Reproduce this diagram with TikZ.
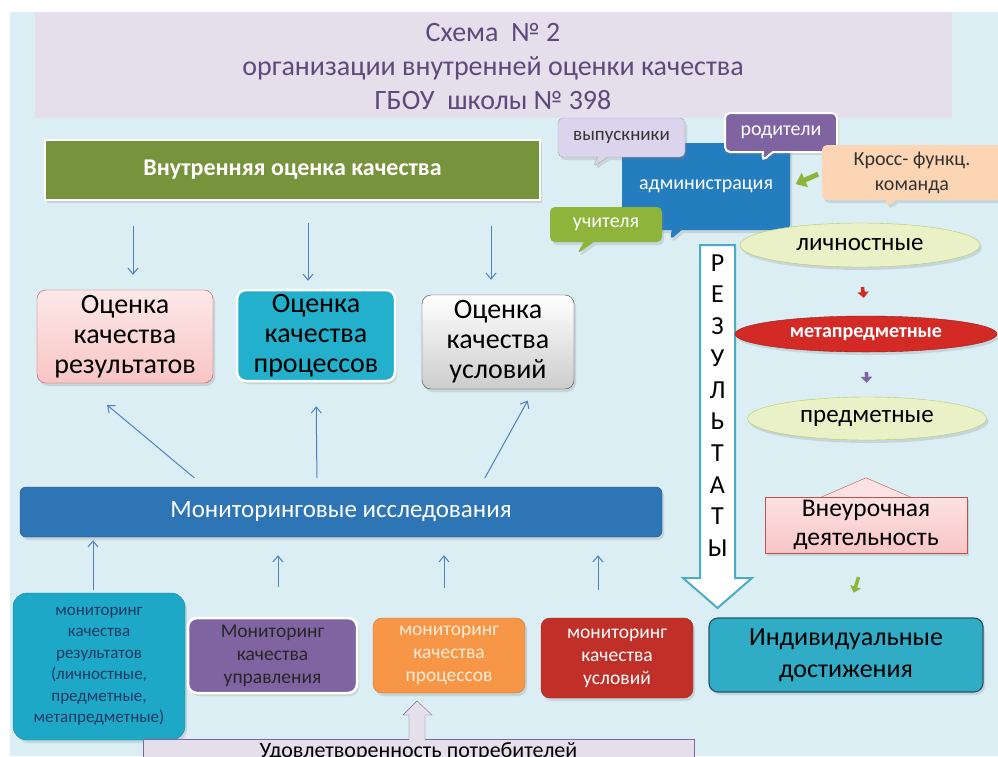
\documentclass[tikz,border=0pt]{standalone}
\usepackage{fontspec}
\setmainfont{Carlito}
\usetikzlibrary{shapes.geometric,shapes.callouts,arrows.meta,shadows,positioning}

\definecolor{bgblue}{RGB}{218,238,244}
\definecolor{titlelav}{RGB}{229,223,236}
\definecolor{titletext}{RGB}{95,73,122}
\definecolor{olive}{RGB}{119,147,60}
\definecolor{pinkfill}{RGB}{249,197,197}
\definecolor{pinkline}{RGB}{192,80,77}
\definecolor{tealbox}{RGB}{34,176,204}
\definecolor{monblue}{RGB}{46,117,182}
\definecolor{monline}{RGB}{31,78,121}
\definecolor{cyanbox}{RGB}{28,168,198}
\definecolor{navytext}{RGB}{31,56,100}
\definecolor{violet}{RGB}{128,100,162}
\definecolor{orangebox}{RGB}{247,150,70}
\definecolor{redbox}{RGB}{192,48,40}
\definecolor{indivbox}{RGB}{49,172,198}
\definecolor{indivline}{RGB}{33,88,104}
\definecolor{admblue}{RGB}{35,125,190}
\definecolor{lavbox}{RGB}{220,211,236}
\definecolor{peach}{RGB}{252,213,180}
\definecolor{greenbox}{RGB}{142,180,60}
\definecolor{lightgreen}{RGB}{235,241,198}
\definecolor{ellline}{RGB}{181,204,106}
\definecolor{metared}{RGB}{212,42,38}
\definecolor{arrline}{RGB}{75,172,198}
\definecolor{thinblue}{RGB}{79,129,189}

\begin{document}
\begin{tikzpicture}[x=1pt,y=-1pt,
    soft/.style={drop shadow={opacity=0.22,shadow xshift=2pt,shadow yshift=-3pt}},
    box/.style={draw,rounded corners=9pt,align=center,inner sep=0pt,soft},
    bubble/.style={rectangle callout,rounded corners=5pt,align=center,inner sep=0pt,soft,
      callout pointer width=10pt,font=\fontsize{20}{25}\selectfont},
    oval/.style={ellipse,draw=ellline,fill=lightgreen,inner sep=0pt,font=\fontsize{25}{28}\selectfont},
    blarr/.style={draw=thinblue,line width=1pt,-{Straight Barb[length=6pt,width=10pt]}},
    dotarr/.style={line width=3.5pt,-{Triangle[length=6pt,width=11pt]}},
    big/.style={font=\fontsize{28}{30}\selectfont},
    small/.style={font=\fontsize{19.5}{23}\selectfont}]
\useasboundingbox (0,0) rectangle (998,756);
\clip (0,0) rectangle (998,756);
\fill[white] (0,0) rectangle (998,756);
\fill[bgblue] (10,12) rectangle (998,756);
\fill[titlelav] (35,12) rectangle (952,118);

\node [align=center,text=titletext,font=\fontsize{28}{34}\selectfont] (title) at (493,67)
    {Схема~~№~2\\организации внутренней оценки качества\\ГБОУ~~школы №~398};

\node [draw=white,line width=2pt,fill=olive,minimum width=495,minimum height=60,soft,
    text=white,font=\bfseries\fontsize{24}{28}\selectfont] (voq) at (292.5,170)
    {Внутренняя оценка качества};

\node [box,big,draw=pinkline,top color=pinkfill!40,bottom color=pinkfill,
    minimum width=176,minimum height=93] (res) at (125,336.5) {Оценка\\качества\\результатов};
\node [box,big,draw=white,line width=2.5pt,fill=tealbox,
    minimum width=158,minimum height=91] (proc) at (316,335.5) {Оценка\\качества\\процессов};
\node [box,big,draw=black!75,top color=white,bottom color=black!20,
    minimum width=152,minimum height=94] (cond) at (498,342) {Оценка\\качества\\условий};

\node [box,rounded corners=6pt,draw=monline,fill=monblue,text=white,
    font=\fontsize{25}{28}\selectfont,minimum width=642,minimum height=50] (mon) at (341,512)
    {Мониторинговые исследования};

\node [box,rounded corners=14pt,draw=cyanbox!80!black,fill=cyanbox,text=navytext,
    font=\fontsize{17}{21.5}\selectfont,minimum width=172,minimum height=147] (mres) at (99,666.5)
    {мониторинг\\качества\\результатов\\(личностные,\\предметные,\\метапредметные)};
\node [box,small,draw=white,line width=2.5pt,fill=violet,text=black!85,
    minimum width=169,minimum height=75] (mupr) at (272.5,655.5) {Мониторинг\\качества\\управления};
\node [box,small,draw=orangebox!80!black,fill=orangebox,text=orange!15,
    minimum width=152,minimum height=75] (mproc) at (449,655.5) {мониторинг\\качества\\процессов};
\node [box,small,draw=redbox!80!black,fill=redbox,text=white,
    minimum width=152,minimum height=80] (mcond) at (617,658) {мониторинг\\качества\\условий};
\node [box,draw=indivline,line width=1.2pt,fill=indivbox,
    font=\fontsize{26}{32}\selectfont,minimum width=274,minimum height=74] (indiv) at (846,655)
    {Индивидуальные\\достижения};

\node [draw=violet,fill=titlelav,font=\fontsize{22}{24}\selectfont,
    minimum width=551,minimum height=26,inner sep=0pt] (udov) at (418.5,752) {Удовлетворенность потребителей};
\filldraw [draw=violet,fill=titlelav] (409,740) -- (409,715) -- (403,715) -- (417,701)
    -- (432,715) -- (425,715) -- (425,740);

% administration and its partners
\node [bubble,fill=admblue,text=white,
    minimum width=168,minimum height=87,callout absolute pointer={(670,240)}] (adm) at (706,186.5)
    {администрация};
\node [bubble,draw=black!35,fill=lavbox,text=black!80,font=\fontsize{19}{25}\selectfont,
    minimum width=127,minimum height=39,callout absolute pointer={(593,167)}] (vyp) at (621.5,137.5)
    {выпускники};
\node [bubble,draw=white,line width=2pt,fill=violet,text=white,
    minimum width=112,minimum height=39,callout absolute pointer={(762,161)}] (rod) at (781,132.5)
    {родители};
\node [bubble,fill=peach,text=black!80,
    minimum width=180,minimum height=55,callout absolute pointer={(886,207)}] (kross) at (912,172.5)
    {Кросс- функц.\\команда};
\node [bubble,fill=greenbox,text=white,
    minimum width=112,minimum height=35,callout absolute pointer={(577,254)}] (uch) at (606,224.5)
    {учителя};
\draw [greenbox,line width=5pt,-{Triangle[length=10pt,width=15pt]},shorten <=4pt,shorten >=6pt]
    (kross.west) -- (adm.east);

% results
\filldraw [draw=arrline,line width=2pt,fill=white] (700,245) -- (735,245) -- (735,578)
    -- (752,578) -- (717.5,608) -- (683,578) -- (700,578) -- cycle;
\node [align=center,font=\fontsize{26}{31.7}\selectfont] (rezt) at (717.5,405.5)
    {Р\\Е\\З\\У\\Л\\Ь\\Т\\А\\Т\\Ы};

\node [oval,soft,minimum width=240,minimum height=44] (lich) at (860,245) {личностные};
\node [oval,soft,draw=metared!70!black,fill=metared,text=white,minimum width=262,minimum height=36,
    font=\bfseries\fontsize{20}{24}\selectfont] (meta) at (866,334) {метапредметные};
\node [oval,soft,minimum width=239,minimum height=43] (pred) at (867,418.5) {предметные};
\node [draw=pinkline,top color=pinkfill!50,bottom color=pinkfill,align=center,inner sep=0pt,soft,
    minimum width=202,minimum height=56,font=\fontsize{25.5}{29}\selectfont] (vneur) at (866,525)
    {Внеурочная\\деятельность};
\filldraw [draw=pinkline,fill=pinkfill!50] ([xshift=-44pt]vneur.north) -- ([yshift=19pt]vneur.north)
    -- ([xshift=44pt]vneur.north);

\draw [dotarr,metared,shorten <=20pt,shorten >=18pt] (lich.south) -- (meta.north);
\draw [dotarr,violet,shorten <=20pt,shorten >=14pt] (meta.south) -- (pred.north);
\draw [dotarr,greenbox,shorten <=25pt,shorten >=26pt] (vneur.south) -- (indiv.north);

% arrows of the left part
\path [blarr,shorten <=25pt,shorten >=15pt] ([xshift=8pt]res.north |- voq.south) -- ([xshift=8pt]res.north);
\path [blarr,shorten <=22pt,shorten >=8pt] ([xshift=-8pt]proc.north |- voq.south) -- ([xshift=-8pt]proc.north);
\path [blarr,shorten <=25pt,shorten >=15pt] ([xshift=-7pt]cond.north |- voq.south) -- ([xshift=-7pt]cond.north);

\path [blarr,shorten <=14pt,shorten >=34pt] ([xshift=-136pt]mon.north) -- ([xshift=-44pt]res.south);
\path [blarr,shorten <=9pt,shorten >=24pt] ([xshift=-24pt]mon.north) -- (proc.south);
\path [blarr,shorten <=10pt,shorten >=13pt] ([xshift=139pt]mon.north) -- ([xshift=36pt]cond.south);

\path [blarr,shorten <=3pt,shorten >=3pt] ([xshift=-6pt]mres.north) -- ([xshift=-6pt]mres.north |- mon.south);
\path [blarr,shorten <=30pt,shorten >=18pt] ([xshift=5.5pt]mupr.north) -- ([xshift=5.5pt]mupr.north |- mon.south);
\path [blarr,shorten <=30pt,shorten >=18pt] ([xshift=-5pt]mproc.north) -- ([xshift=-5pt]mproc.north |- mon.south);
\path [blarr,shorten <=28pt,shorten >=18pt] ([xshift=-19pt]mcond.north) -- ([xshift=-19pt]mcond.north |- mon.south);
\end{tikzpicture}
\end{document}
